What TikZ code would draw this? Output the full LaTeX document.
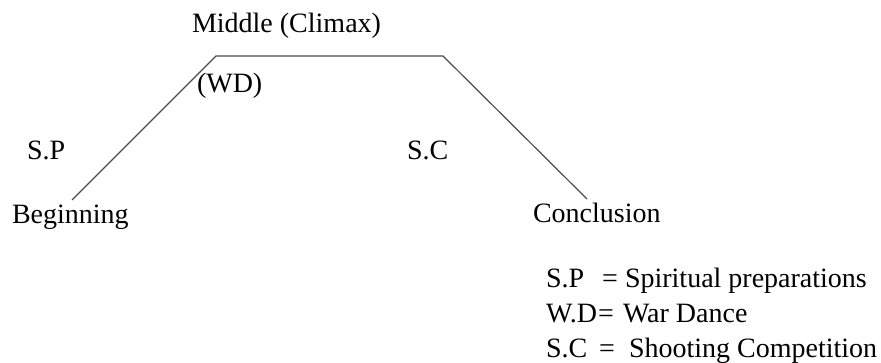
\documentclass[tikz,border=0pt]{standalone}
\usepackage{fontspec}
\setmainfont{Liberation Serif}
\begin{document}
\begin{tikzpicture}[x=0.5pt,y=-0.5pt,
  lbl/.style={anchor=base west,inner sep=0pt,outer sep=0pt,font=\fontsize{14}{16}\selectfont},
  arc/.style={draw=black!70,line width=0.6pt}]
\useasboundingbox (0,0) rectangle (881,363);
\coordinate (pb) at (72,200);
\coordinate (pl) at (216,56);
\coordinate (pr) at (443,56);
\coordinate (pc) at (587,199);
\draw[arc] (pb) -- (pl) -- (pr) -- (pc);
\node[lbl] (mid) at (192,33) {Middle (Climax)};
\node[lbl] (wd) at (197,93) {(WD)};
\node[lbl] (sp) at (27,160) {S.P};
\node[lbl] (sc) at (407,160) {S.C};
\node[lbl] (beg) at (12,223) {Beginning};
\node[lbl] (con) at (533,222) {Conclusion};
\node[lbl] (k1) at (546,287) {S.P};
\node[lbl] (e1) at (602,287) {=};
\node[lbl] (v1) at (625,287) {Spiritual preparations};
\node[lbl] (k2) at (546,322) {W.D};
\node[lbl] (e2) at (598,322) {=};
\node[lbl] (v2) at (623,322) {War Dance};
\node[lbl] (k3) at (546,357) {S.C};
\node[lbl] (e3) at (599,357) {=};
\node[lbl] (v3) at (629,357) {Shooting Competition};
\end{tikzpicture}
\end{document}
